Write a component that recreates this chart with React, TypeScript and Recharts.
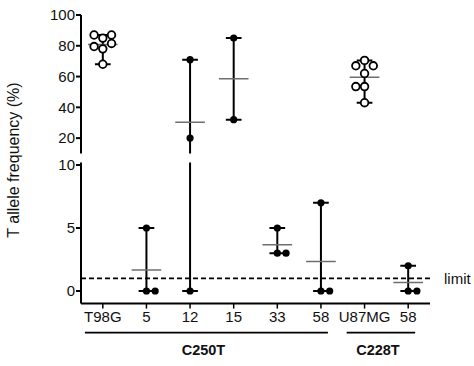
import React from 'react';
import { ComposedChart, Scatter, XAxis, YAxis, ReferenceLine } from 'recharts';

// ---- data ----
const categories = ['T98G', '5', '12', '15', '33', '58', 'U87MG', '58'];
const valsT98G = [87, 87, 85, 81.5, 79.5, 78, 68];
const vals5 = [5, 0, 0];
const vals12 = [71, 20, 0];
const vals15 = [85, 32];
const vals33 = [5, 3, 3];
const vals58a = [7, 0, 0];
const valsU87MG = [70.5, 67, 67, 62, 53.5, 53.5, 43];
const vals58b = [2, 0, 0];
const groupValues = [valsT98G, vals5, vals12, vals15, vals33, vals58a, valsU87MG, vals58b];
const openMarkerGroups = [0, 6];
const detectionLimit = 1;
const mutationGroups = [
  { label: 'C250T', from: 0, to: 5 },
  { label: 'C228T', from: 6, to: 7 },
];
const topTicks = [20, 40, 60, 80, 100];
const bottomTicks = [0, 5, 10];

// horizontal spread of overlapping dots (category units)
const swarm = [
  [-0.2, 0.2, 0, 0.2, -0.2, 0, 0],
  [0, 0, 0.2],
  [0, 0, 0],
  [0, 0],
  [0, 0, 0.2],
  [0, 0, 0.2],
  [0, -0.2, 0.2, 0, -0.2, 0, 0],
  [0, 0, 0.2],
];

// ---- layout ----
const W = 474;
const H = 366;
const PLOT_LEFT = 81;
const PLOT_RIGHT = 430;
const BAND = (PLOT_RIGHT - PLOT_LEFT) / categories.length;
const FONT = '"Liberation Sans", Arial, Helvetica, sans-serif';
const SPLIT = 10;

const xOf = (i: number) => PLOT_LEFT + (i + 0.5) * BAND;

const stats = groupValues.map((vals) => {
  const min = Math.min(...vals);
  const max = Math.max(...vals);
  const mean = vals.reduce((a, b) => a + b, 0) / vals.length;
  return { min, max, mean };
});

const allPoints = groupValues.flatMap((vals, gi) =>
  vals.map((v, k) => ({ x: gi + swarm[gi][k], y: v, open: openMarkerGroups.includes(gi) }))
);

const topOpen = allPoints.filter((p) => p.y >= SPLIT && p.open);
const topFilled = allPoints.filter((p) => p.y >= SPLIT && !p.open);
const botOpen = allPoints.filter((p) => p.y < SPLIT && p.open);
const botFilled = allPoints.filter((p) => p.y < SPLIT && !p.open);

const FilledDot = (p: any) => <circle cx={p.cx} cy={p.cy} r={3.6} fill="#000" />;
const OpenDot = (p: any) => (
  <circle cx={p.cx} cy={p.cy} r={3.8} fill="#fff" stroke="#000" strokeWidth={1.8} />
);

const renderRanges = (prefix: string) =>
  stats.flatMap((s, i) => [
    <ReferenceLine
      key={`${prefix}-v-${i}`}
      segment={[{ x: i, y: s.min }, { x: i, y: s.max }]}
      stroke="#000"
      strokeWidth={2}
      ifOverflow="hidden"
    />,
    <ReferenceLine
      key={`${prefix}-cmax-${i}`}
      segment={[{ x: i - 0.18, y: s.max }, { x: i + 0.18, y: s.max }]}
      stroke="#000"
      strokeWidth={2}
      ifOverflow="hidden"
    />,
    <ReferenceLine
      key={`${prefix}-cmin-${i}`}
      segment={[{ x: i - 0.18, y: s.min }, { x: i + 0.18, y: s.min }]}
      stroke="#000"
      strokeWidth={2}
      ifOverflow="hidden"
    />,
    <ReferenceLine
      key={`${prefix}-mean-${i}`}
      segment={[{ x: i - 0.34, y: s.mean }, { x: i + 0.34, y: s.mean }]}
      stroke="#6e6e6e"
      strokeWidth={1.5}
      ifOverflow="hidden"
    />,
  ]);

const xTicks = categories.map((_, i) => i);
const axisTick = { fill: '#111', fontSize: 15, fontFamily: FONT };

export default function App() {
  return (
    <div style={{ position: 'absolute', left: 0, top: 0, width: W, height: H, background: '#fff' }}>
      {/* lower panel */}
      <div style={{ position: 'absolute', left: 0, top: 0 }}>
        <ComposedChart
          width={W}
          height={H}
          margin={{ top: 162.5, right: W - PLOT_RIGHT, bottom: 32.4, left: 0 }}
        >
          <XAxis
            type="number"
            dataKey="x"
            domain={[-0.5, categories.length - 0.5]}
            ticks={xTicks}
            interval={0}
            tickFormatter={(i: number) => categories[i]}
            allowDataOverflow
            height={30}
            stroke="#000"
            axisLine={{ stroke: '#000', strokeWidth: 2 }}
            tickLine={{ stroke: '#000', strokeWidth: 1.5 }}
            tickSize={5}
            tickMargin={3}
            tick={axisTick}
          />
          <YAxis
            type="number"
            dataKey="y"
            domain={[-1, 10.2]}
            ticks={bottomTicks}
            allowDataOverflow
            width={PLOT_LEFT}
            axisLine={{ stroke: '#000', strokeWidth: 2 }}
            tickLine={{ stroke: '#000', strokeWidth: 2 }}
            tickSize={5}
            tickMargin={1}
            tick={axisTick}
          />
          {renderRanges('b')}
          <ReferenceLine
            y={detectionLimit}
            stroke="#000"
            strokeWidth={1.6}
            strokeDasharray="5 3"
            label={{ value: 'limit', position: 'right', offset: 14, fill: '#111', fontSize: 15, fontFamily: FONT }}
          />
          <Scatter data={botFilled} dataKey="y" shape={FilledDot} isAnimationActive={false} />
          <Scatter data={botOpen} dataKey="y" shape={OpenDot} isAnimationActive={false} />
        </ComposedChart>
      </div>
      {/* upper panel */}
      <div style={{ position: 'absolute', left: 0, top: 0 }}>
        <ComposedChart
          width={W}
          height={160}
          margin={{ top: 15, right: W - PLOT_RIGHT, bottom: 6.5, left: 0 }}
        >
          <XAxis
            type="number"
            dataKey="x"
            domain={[-0.5, categories.length - 0.5]}
            allowDataOverflow
            hide
          />
          <YAxis
            type="number"
            dataKey="y"
            domain={[SPLIT, 100]}
            ticks={topTicks}
            allowDataOverflow
            width={PLOT_LEFT}
            axisLine={{ stroke: '#000', strokeWidth: 2 }}
            tickLine={{ stroke: '#000', strokeWidth: 2 }}
            tickSize={5}
            tickMargin={1}
            tick={axisTick}
          />
          {renderRanges('t')}
          <Scatter data={topFilled} dataKey="y" shape={FilledDot} isAnimationActive={false} />
          <Scatter data={topOpen} dataKey="y" shape={OpenDot} isAnimationActive={false} />
        </ComposedChart>
      </div>
      {/* annotations */}
      <svg
        width={W}
        height={H}
        style={{ position: 'absolute', left: 0, top: 0, pointerEvents: 'none' }}
      >
        <text
          transform={`translate(13, 160) rotate(-90)`}
          textAnchor="middle"
          dominantBaseline="central"
          fontSize={16}
          fontFamily={FONT}
          fill="#111"
        >
          T allele frequency (%)
        </text>
        {mutationGroups.map((g) => {
          const x1 = xOf(g.from) - BAND * 0.41;
          const x2 = xOf(g.to) + BAND * 0.16;
          return (
            <g key={g.label}>
              <line x1={x1} x2={x2} y1={332.7} y2={332.7} stroke="#000" strokeWidth={1.8} />
              <text
                x={(x1 + x2) / 2 - 3}
                y={350}
                textAnchor="middle"
                dominantBaseline="central"
                fontSize={14.5}
                fontWeight="bold"
                fontFamily={FONT}
                fill="#111"
              >
                {g.label}
              </text>
            </g>
          );
        })}
      </svg>
    </div>
  );
}
